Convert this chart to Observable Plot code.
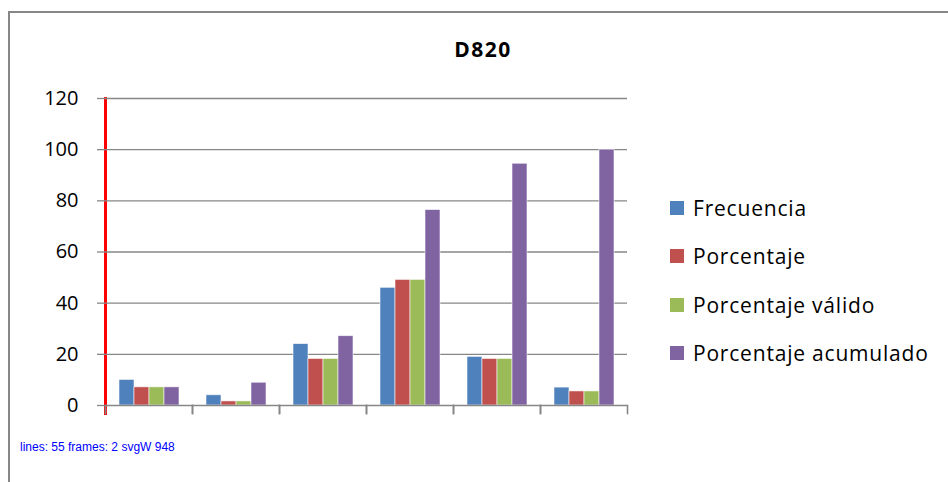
<!DOCTYPE html>
<html>
<head>
<meta charset="utf-8">
<script src="https://cdn.jsdelivr.net/npm/d3@7"></script>
<script src="https://cdn.jsdelivr.net/npm/@observablehq/plot@0.6"></script>
<style>
  html, body { margin: 0; padding: 0; background: #fff; }
  #wrap { position: relative; width: 948px; height: 482px; overflow: hidden; font-family: "Open Sans", Lato, sans-serif; }
  #border { position: absolute; left: 8px; top: 11px; width: 1000px; height: 600px; border: 2px solid #878787; box-sizing: border-box; }
  #title { position: absolute; left: 383px; width: 200px; top: 35px; text-align: center; font-weight: bold; font-size: 21px; letter-spacing: 1.5px; color: #000; }
  #legend { position: absolute; left: 670px; top: 184px; font-size: 21px; letter-spacing: 0.8px; color: #000; }
  .item { display: flex; align-items: center; height: 48.3px; }
  .sw { width: 14px; height: 14px; margin-right: 9px; flex: none; }
  #chart { position: absolute; left: 0; top: 0; }
</style>
</head>
<body>
<div id="wrap">
  <div id="border"></div>
  <div id="chart"></div>
  <div id="title">D820</div>
  <div id="legend"></div>
</div>
<script>
const categories = ["1", "2", "3", "4", "5", "6"];
const seriesNames = ["Frecuencia", "Porcentaje", "Porcentaje válido", "Porcentaje acumulado"];
const frecuencia = [10, 4, 24, 46, 19, 7];
const porcentaje = [7.1, 1.6, 18.2, 49.1, 18.2, 5.5];
const porcentajeValido = [7.1, 1.6, 18.2, 49.1, 18.2, 5.5];
const porcentajeAcumulado = [7.1, 8.9, 27.1, 76.4, 94.5, 100];
const yTicks = [0, 20, 40, 60, 80, 100, 120];
const colors = ["#4F81BD", "#C0504D", "#9BBB59", "#8064A2"];

const seriesValues = [frecuencia, porcentaje, porcentajeValido, porcentajeAcumulado];
const rows = [];
categories.forEach((c, i) => {
  seriesNames.forEach((s, j) => rows.push({category: c, series: s, value: seriesValues[j][i]}));
});

const grid = "#878787";
const chart = Plot.plot({
  width: 948,
  height: 482,
  marginLeft: 104,
  marginRight: 320,
  marginTop: 98,
  marginBottom: 69,
  style: {fontFamily: "'Open Sans', Lato, sans-serif", fontSize: "20px"},
  fx: {domain: categories, padding: 0, axis: null},
  x: {domain: seriesNames, paddingInner: 0, paddingOuter: 0.745, axis: null},
  y: {domain: [0, 120], insetBottom: 8, axis: null},
  color: {domain: seriesNames, range: colors},
  marks: [
    Plot.frame({anchor: "left", stroke: "red", strokeWidth: 3, facet: "super"}),
    Plot.ruleY(yTicks.filter(t => t > 0), {stroke: grid, strokeWidth: 1.3}),
    Plot.barY(rows, {fx: "category", x: "series", y: "value", fill: "series", stroke: "white", strokeWidth: 0.8, strokeOpacity: 0.7}),
    Plot.ruleY([0], {stroke: grid, strokeWidth: 1.6}),
    Plot.frame({anchor: "left", stroke: grid, strokeWidth: 1.6, insetTop: 405 - 98}),
    Plot.frame({anchor: "right", stroke: grid, strokeWidth: 1.6, insetTop: 405 - 98}),
    Plot.axisY({ticks: yTicks, label: null, tickSize: 8, tickPadding: 19, stroke: grid, strokeWidth: 1.3, fill: "black", tickFormat: d => String(d), fontSize: 20})
  ]
});
document.getElementById("chart").appendChild(chart);
const dbg = document.createElement("div");
dbg.style.cssText = "position:absolute;left:20px;top:440px;font:12px sans-serif;color:blue";
dbg.textContent = "lines: " + chart.querySelectorAll("line").length + " frames: " + Array.from(chart.querySelectorAll("g[aria-label=frame]")).length + " svgW " + chart.getAttribute("width");
document.getElementById("wrap").appendChild(dbg);

const legend = document.getElementById("legend");
seriesNames.forEach((s, j) => {
  const item = document.createElement("div");
  item.className = "item";
  const sw = document.createElement("div");
  sw.className = "sw";
  sw.style.background = colors[j];
  const label = document.createElement("span");
  label.textContent = s;
  item.appendChild(sw);
  item.appendChild(label);
  legend.appendChild(item);
});
</script>
</body>
</html>
